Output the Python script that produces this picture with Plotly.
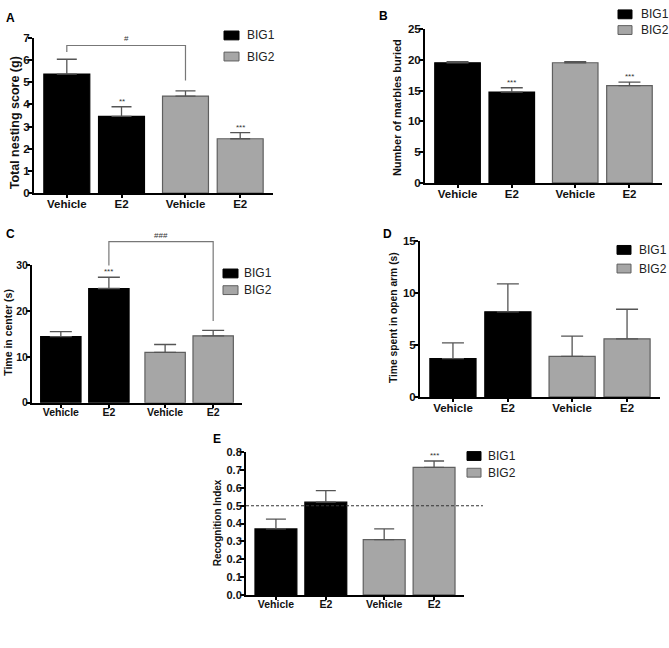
import plotly.graph_objects as go

# ---------------- data ----------------
TICK_LABELS = ["Vehicle", "E2", "Vehicle", "E2"]
SERIES = ["BIG1", "BIG2"]

A_BIG1_MEAN = [5.36, 3.46]
A_BIG1_SEM = [0.67, 0.43]
A_BIG2_MEAN = [4.37, 2.45]
A_BIG2_SEM = [0.24, 0.28]

B_BIG1_MEAN = [19.5, 14.75]
B_BIG1_SEM = [0.2, 0.7]
B_BIG2_MEAN = [19.5, 15.8]
B_BIG2_SEM = [0.2, 0.55]

C_BIG1_MEAN = [14.4, 24.9]
C_BIG1_SEM = [1.1, 2.45]
C_BIG2_MEAN = [11.0, 14.6]
C_BIG2_SEM = [1.7, 1.2]

D_BIG1_MEAN = [3.7, 8.2]
D_BIG1_SEM = [1.5, 2.7]
D_BIG2_MEAN = [3.9, 5.6]
D_BIG2_SEM = [1.95, 2.85]

E_BIG1_MEAN = [0.37, 0.52]
E_BIG1_SEM = [0.055, 0.065]
E_BIG2_MEAN = [0.31, 0.715]
E_BIG2_SEM = [0.06, 0.036]
E_CHANCE_LEVEL = 0.5

PANEL_LETTERS = ["A", "B", "C", "D", "E"]
Y_TITLES = ["Total nesting score (g)", "Number of marbles buried",
            "Time in center (s)", "Time spent in open arm (s)", "Recognition Index"]
Y_TICKS = [[0, 1, 2, 3, 4, 5, 6, 7], [0, 5, 10, 15, 20, 25], [0, 10, 20, 30],
           [0, 5, 10, 15], [0, 0.1, 0.2, 0.3, 0.4, 0.5, 0.6, 0.7, 0.8]]
Y_MAX = [7, 25, 30, 15, 0.8]

# significance marks: (series index, bar index, text)
SIG_A = [(0, 1, "**"), (1, 1, "***")]
SIG_B = [(0, 1, "***"), (1, 1, "***")]
SIG_C = [(0, 1, "***")]
SIG_D = []
SIG_E = [(1, 1, "***")]

# brackets: (left series, left bar, right series, right bar, text, top, left end, right end)
BRACKET_A = (0, 0, 1, 0, "#", 6.65, 6.36, 5.07)
BRACKET_C = (0, 1, 1, 1, "###", 35.1, 29.9, 17.8)

# ---------------- layout constants ----------------
W, H = 669, 648
FONT = "Liberation Sans, Arial, sans-serif"
BLACK = "#000000"
GREY = "#a6a6a6"
GREY_EDGE = "#5f5f5f"
ERR_COLOR = "#555555"
X_POS = [[0, 1], [2.17, 3.17]]
X_RANGE = [-0.6, 3.77]
BAR_W = 0.84

# pixel geometry: x0, x1, ytop, ybottom
GEOM = [(34, 273, 32.3, 190.7), (425, 662, 23.3, 180.3), (32, 242, 264, 404.3),
        (420, 660, 239.7, 398.3), (246, 464, 454.7, 600)]
# legend: rect x0, rect x1, centre y BIG1, centre y BIG2, text x
LEGEND_GEOM = [(224, 239, 30, 51.5, 245), (618, 632, 8.5, 24.5, 639),
               (223, 238, 272.5, 289.5, 242), (617, 631, 248.5, 267.5, 637),
               (467, 481, 458.5, 475.5, 486)]
LETTER_POS = [(10, 12), (383, 10), (10, 232), (387, 232), (217, 441)]
TITLE_POS = [(14.5, 119), (397, 104), (8, 333), (393, 318), (217, 527)]
TITLE_SIZE = [12.5, 11, 10.5, 10.3, 10]
TICK_SIZE = [11.5, 11.5, 10.5, 11.5, 11]
XTICK_SIZE = [11.5, 11.5, 10.5, 11.5, 10.5]
CAP = [10, 11, 11, 11, 10]

panels = [
    (A_BIG1_MEAN, A_BIG1_SEM, A_BIG2_MEAN, A_BIG2_SEM, SIG_A, BRACKET_A),
    (B_BIG1_MEAN, B_BIG1_SEM, B_BIG2_MEAN, B_BIG2_SEM, SIG_B, None),
    (C_BIG1_MEAN, C_BIG1_SEM, C_BIG2_MEAN, C_BIG2_SEM, SIG_C, BRACKET_C),
    (D_BIG1_MEAN, D_BIG1_SEM, D_BIG2_MEAN, D_BIG2_SEM, SIG_D, None),
    (E_BIG1_MEAN, E_BIG1_SEM, E_BIG2_MEAN, E_BIG2_SEM, SIG_E, None),
]

fig = go.Figure()
layout = dict(width=W, height=H, margin=dict(l=0, r=0, t=0, b=0),
              paper_bgcolor="white", plot_bgcolor="white", barmode="overlay",
              showlegend=False, font=dict(family=FONT, color="#111"))
annotations = []
shapes = []


def px(x):
    return x / W


def py(y):
    return 1 - y / H


FILLS = [(BLACK, BLACK), (GREY, GREY_EDGE)]

for i, (m1, s1, m2, s2, sigs, bracket) in enumerate(panels):
    sfx = "" if i == 0 else str(i + 1)
    xa, ya = "x" + sfx, "y" + sfx
    x0, x1, yt, yb = GEOM[i]
    means = [m1, m2]
    sems = [s1, s2]
    for k in range(2):
        fig.add_trace(go.Bar(
            x=X_POS[k], y=means[k], width=BAR_W, name=SERIES[k],
            marker=dict(color=FILLS[k][0], line=dict(color=FILLS[k][1], width=1.2)),
            error_y=dict(type="data", array=sems[k], arrayminus=[0] * len(sems[k]),
                         symmetric=False, color=ERR_COLOR, thickness=1.3, width=CAP[i]),
            xaxis=xa, yaxis=ya, showlegend=False,
        ))
    layout["xaxis" + sfx] = dict(
        domain=[px(x0), px(x1)], anchor=ya, range=X_RANGE,
        tickmode="array", tickvals=X_POS[0] + X_POS[1], ticktext=TICK_LABELS,
        showline=True, linecolor="black", linewidth=2, ticks="outside", ticklen=3,
        tickwidth=1.5, tickcolor="black", showgrid=False, zeroline=False,
        ticklabelstandoff=-4,
        tickfont=dict(family=FONT, size=XTICK_SIZE[i], color="#111", weight="bold"),
    )
    layout["yaxis" + sfx] = dict(
        domain=[py(yb), py(yt)], anchor=xa, range=[0, Y_MAX[i]],
        tickmode="array", tickvals=Y_TICKS[i],
        tickformat=".1f" if i == 4 else "d",
        showline=True, linecolor="black", linewidth=2, ticks="outside", ticklen=4,
        tickwidth=1.5, tickcolor="black", showgrid=False, zeroline=False,
        ticklabelstandoff=-4,
        tickfont=dict(family=FONT, size=TICK_SIZE[i], color="#111", weight="bold"),
    )
    # legend (swatch + label)
    lx0, lx1, c1, c2, tx = LEGEND_GEOM[i]
    for k, cy in enumerate([c1, c2]):
        shapes.append(dict(type="rect", xref="paper", yref="paper",
                           x0=px(lx0), x1=px(lx1), y0=py(cy + 4.5), y1=py(cy - 4.5),
                           fillcolor=FILLS[k][0], line=dict(color=FILLS[k][1], width=1)))
        annotations.append(dict(x=px(tx), y=py(cy), xref="paper", yref="paper",
                                text=SERIES[k], showarrow=False, xanchor="left", yanchor="middle",
                                font=dict(family=FONT, size=12, color="#222")))
    # panel letter
    annotations.append(dict(x=px(LETTER_POS[i][0]), y=py(LETTER_POS[i][1]), xref="paper", yref="paper",
                            text=PANEL_LETTERS[i], showarrow=False, xanchor="center", yanchor="middle",
                            font=dict(family=FONT, size=12, color="black", weight="bold")))
    # y-axis title
    annotations.append(dict(x=px(TITLE_POS[i][0]), y=py(TITLE_POS[i][1]), xref="paper", yref="paper",
                            text=Y_TITLES[i], textangle=-90, showarrow=False,
                            xanchor="center", yanchor="middle",
                            font=dict(family=FONT, size=TITLE_SIZE[i], color="#111", weight="bold")))
    # significance stars
    for (k, j, txt) in sigs:
        annotations.append(dict(x=X_POS[k][j], y=means[k][j] + sems[k][j], xref=xa, yref=ya,
                                text=txt, showarrow=False, yanchor="bottom", yshift=-1,
                                font=dict(family=FONT, size=8, color="#333")))
    # bracket
    if bracket is not None:
        ka, ja, kb, jb, txt, top, lend, rend = bracket
        xl, xr = X_POS[ka][ja], X_POS[kb][jb]
        ymax = Y_MAX[i]
        shapes.append(dict(type="path", xref=xa, yref=ya + " domain",
                           path=f"M {xl},{lend / ymax} L {xl},{top / ymax} L {xr},{top / ymax} L {xr},{rend / ymax}",
                           line=dict(color="#777", width=1.2)))
        annotations.append(dict(x=(xl + xr) / 2, y=top / ymax, xref=xa, yref=ya + " domain",
                                text=txt, showarrow=False, yanchor="bottom", yshift=0,
                                font=dict(family=FONT, size=8, color="#333")))

# chance level line in panel E
shapes.append(dict(type="line", xref="x5 domain", yref="y5", x0=0, x1=1.087,
                   y0=E_CHANCE_LEVEL, y1=E_CHANCE_LEVEL,
                   line=dict(color="#333", width=1, dash="3px,2px")))

layout["annotations"] = annotations
layout["shapes"] = shapes
fig.update_layout(**layout)

PIN_TOP_LEFT = (
    "document.body.style.margin='0';"
    "var d=document.getElementById('{plot_id}');"
    "d.style.position='absolute';d.style.left='0px';d.style.top='0px';"
)
fig.write_html("out.html", post_script=PIN_TOP_LEFT, config={"displayModeBar": False})
